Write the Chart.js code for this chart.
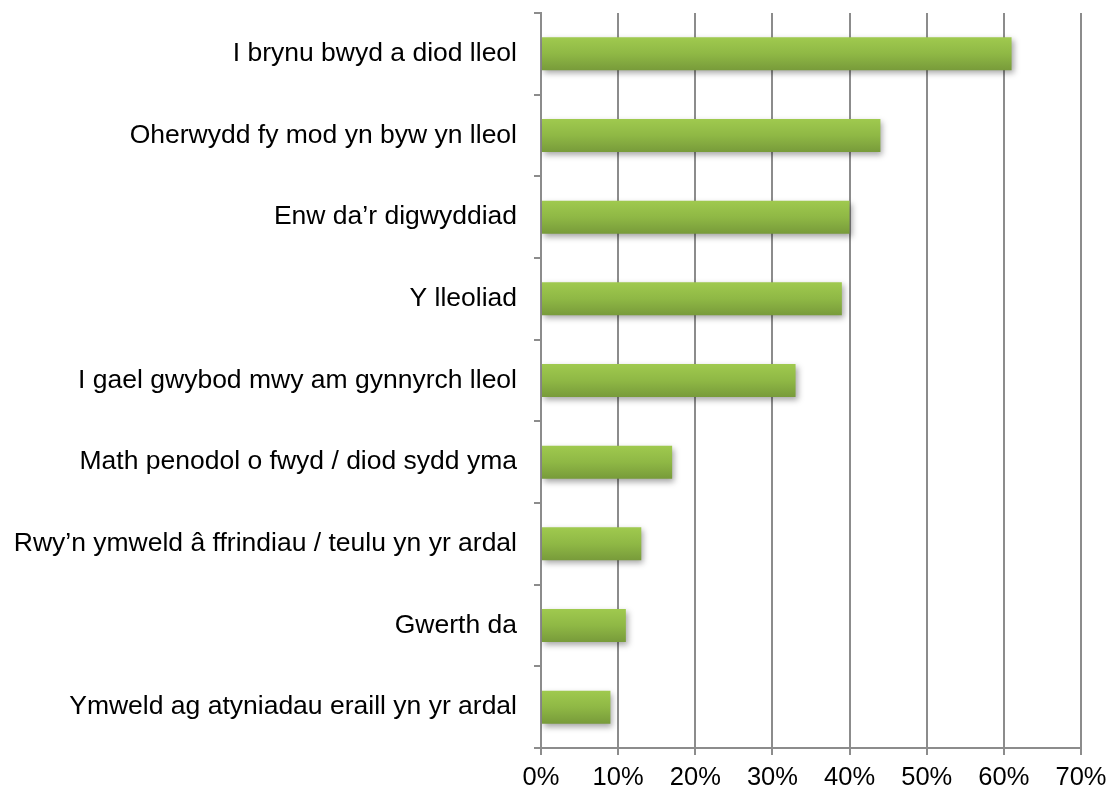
<!DOCTYPE html>
<html lang="cy">
<head>
  <meta charset="UTF-8" />
  <title>Chart</title>
  <style>
    html, body { margin: 0; padding: 0; background: #fff; }
    .wrap { width: 1112px; height: 791px; position: relative; }
  </style>
</head>
<body>
  <div class="wrap">
    <canvas id="myCanvas" width="1112" height="791"></canvas>
  </div>

  <script src="https://cdn.jsdelivr.net/npm/chart.js"></script>
  <script>
    const categories = [
      "I brynu bwyd a diod lleol",
      "Oherwydd fy mod yn byw yn lleol",
      "Enw da\u2019r digwyddiad",
      "Y lleoliad",
      "I gael gwybod mwy am gynnyrch lleol",
      "Math penodol o fwyd / diod sydd yma",
      "Rwy\u2019n ymweld \u00e2 ffrindiau / teulu yn yr ardal",
      "Gwerth da",
      "Ymweld ag atyniadau eraill yn yr ardal"
    ];
    const percentValues = [61, 44, 40, 39, 33, 17, 13, 11, 9];
    const tickValues = [0, 10, 20, 30, 40, 50, 60, 70];

    const axisGray = "#8c8c8c";

    // gradient per bar, worked out from the bar's own position on the y scale
    function barFill(ctx) {
      const chart = ctx.chart;
      const yScale = chart.scales.y;
      if (!chart.chartArea || !yScale || ctx.dataIndex === undefined) return "#8db344";
      const center = yScale.getPixelForValue(ctx.dataIndex);
      const half = 17;
      const g = chart.ctx.createLinearGradient(0, center - half, 0, center + half);
      g.addColorStop(0, "#a0ca4f");
      g.addColorStop(0.5, "#8fb845");
      g.addColorStop(1, "#779a3a");
      return g;
    }

    const barShadow = {
      id: "barShadow",
      beforeDatasetsDraw(chart) {
        chart.ctx.save();
        chart.ctx.shadowColor = "rgba(0,0,0,0.35)";
        chart.ctx.shadowBlur = 6;
        chart.ctx.shadowOffsetX = 2;
        chart.ctx.shadowOffsetY = 3;
      },
      afterDatasetsDraw(chart) {
        chart.ctx.restore();
      }
    };

    new Chart(document.getElementById("myCanvas"), {
      type: "bar",
      data: {
        labels: categories,
        datasets: [{
          data: percentValues,
          backgroundColor: barFill,
          borderWidth: 0,
          barPercentage: 0.9,
          categoryPercentage: 0.45
        }]
      },
      plugins: [barShadow],
      options: {
        indexAxis: "y",
        responsive: false,
        animation: false,
        layout: { padding: { top: 13, right: 31, left: 0, bottom: 0 } },
        plugins: {
          legend: { display: false },
          tooltip: { enabled: false }
        },
        scales: {
          x: {
            min: 0,
            max: 70,
            afterBuildTicks(axis) {
              axis.ticks = tickValues.map(v => ({ value: v }));
            },
            afterFit(axis) {
              axis.height = 43;
              axis.paddingLeft = 0;
              axis.paddingRight = 0;
            },
            ticks: {
              callback: v => v + "%",
              color: "#000",
              font: { family: "Liberation Sans, Arial", size: 25.5 },
              padding: 8,
              maxRotation: 0
            },
            grid: {
              color: axisGray,
              lineWidth: 2,
              drawTicks: true,
              tickLength: 7
            },
            border: { color: axisGray, width: 2 }
          },
          y: {
            afterFit(axis) {
              axis.width = 541;
              axis.paddingTop = 0;
              axis.paddingBottom = 0;
            },
            ticks: {
              color: "#000",
              font: { family: "Liberation Sans, Arial", size: 26.5 },
              padding: 17
            },
            grid: {
              drawOnChartArea: false,
              drawTicks: true,
              tickLength: 7,
              color: axisGray,
              lineWidth: 2,
              offset: true
            },
            border: { color: axisGray, width: 2 }
          }
        }
      }
    });
  </script>
</body>
</html>
